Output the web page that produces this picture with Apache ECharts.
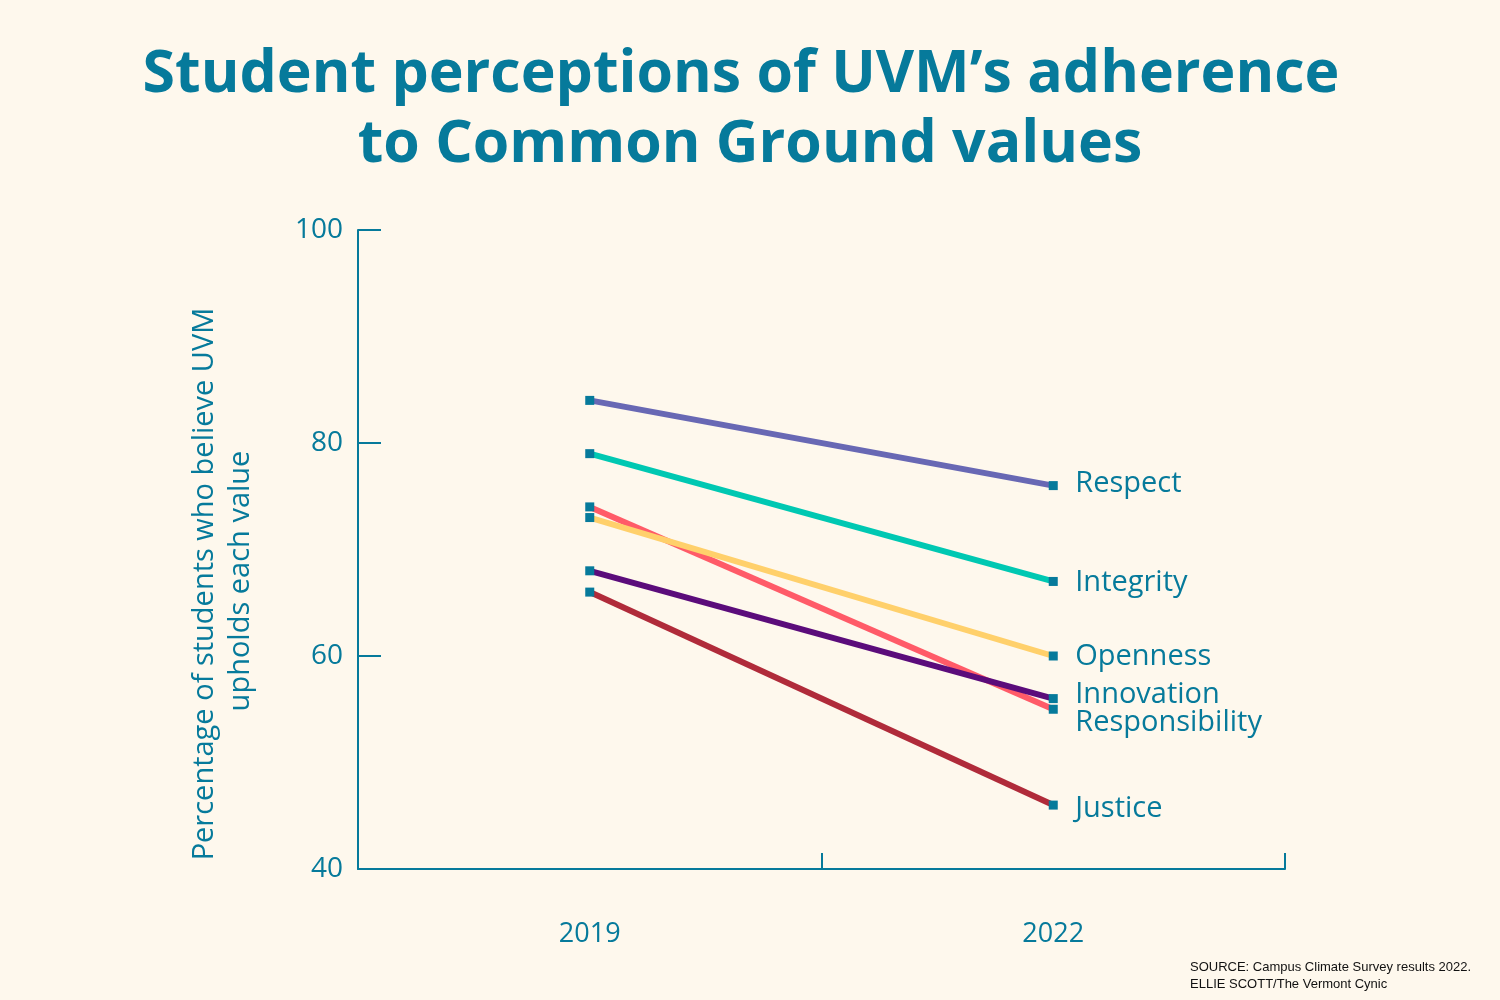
<!DOCTYPE html>
<html>
<head>
<meta charset="utf-8">
<script src="https://cdn.jsdelivr.net/npm/echarts@6/dist/echarts.min.js"></script>
<style>
html,body{margin:0;padding:0;background:#fef8ed;}
#chart{width:1500px;height:1000px;}
</style>
</head>
<body>
<div id="chart"></div>
<script>
const categories = ['2019', '2022'];
const seriesNames = ['Responsibility', 'Openness', 'Innovation', 'Justice', 'Integrity', 'Respect'];
const responsibility = [74, 55];
const openness = [73, 60];
const innovation = [68, 56];
const justice = [66, 46];
const integrity = [79, 67];
const respect = [84, 76];
const yTicks = [40, 60, 80, 100];
const titleLines = ['Student perceptions of UVM\u2019s adherence', 'to Common Ground values'];
const yNameLines = ['Percentage of students who believe UVM', 'upholds each value'];
const sourceLines = ['SOURCE: Campus Climate Survey results 2022.', 'ELLIE SCOTT/The Vermont Cynic'];

const TEAL = '#067a9b';
const colors = {
  Responsibility: '#ff5b68',
  Openness: '#ffd06b',
  Innovation: '#5b0c7b',
  Justice: '#b02b3a',
  Integrity: '#00c8b2',
  Respect: '#6868b4'
};
const labelOffsets = {
  Responsibility: [0, 13],
  Openness: [0, 1],
  Innovation: [0, -4],
  Justice: [0, 4],
  Integrity: [0, 1],
  Respect: [0, -2]
};
const values = {
  Responsibility: responsibility,
  Openness: openness,
  Innovation: innovation,
  Justice: justice,
  Integrity: integrity,
  Respect: respect
};

const chart = echarts.init(document.getElementById('chart'));
const FONT = '"Open Sans", "Noto Sans", sans-serif';

chart.setOption({
  backgroundColor: '#fef8ed',
  animation: false,
  grid: { left: 358, right: 215, top: 230, bottom: 131 },
  xAxis: {
    type: 'category',
    data: categories,
    boundaryGap: true,
    axisLine: { show: true, lineStyle: { color: TEAL, width: 2 } },
    axisTick: { show: true, inside: true, length: 16, lineStyle: { color: TEAL, width: 2 } },
    axisLabel: { color: TEAL, fontFamily: FONT, fontSize: 27, margin: 52 },
    splitLine: { show: false }
  },
  yAxis: {
    type: 'value',
    min: yTicks[0],
    max: yTicks[yTicks.length - 1],
    interval: yTicks[1] - yTicks[0],
    axisLine: { show: true, lineStyle: { color: TEAL, width: 2 } },
    axisTick: { show: true, inside: true, length: 23, lineStyle: { color: TEAL, width: 2 } },
    axisLabel: { color: TEAL, fontFamily: FONT, fontSize: 28, margin: 15 },
    splitLine: { show: false }
  },
  graphic: [
    {
      type: 'text', x: 741, y: 75,
      style: { text: titleLines[0], fill: TEAL, font: 'bold 59px ' + FONT, textAlign: 'center', textVerticalAlign: 'middle' }
    },
    {
      type: 'text', x: 750, y: 145,
      style: { text: titleLines[1], fill: TEAL, font: 'bold 59px ' + FONT, textAlign: 'center', textVerticalAlign: 'middle' }
    },
    {
      type: 'text', x: 205, y: 584, rotation: Math.PI / 2,
      style: { text: yNameLines[0], fill: TEAL, font: '29px ' + FONT, textAlign: 'center', textVerticalAlign: 'middle' }
    },
    {
      type: 'text', x: 241, y: 581, rotation: Math.PI / 2,
      style: { text: yNameLines[1], fill: TEAL, font: '29px ' + FONT, textAlign: 'center', textVerticalAlign: 'middle' }
    },
    {
      type: 'text', x: 1190, y: 961,
      style: { text: sourceLines[0], fill: '#111', font: '13px "Liberation Sans", Arial, sans-serif' }
    },
    {
      type: 'text', x: 1190, y: 978,
      style: { text: sourceLines[1], fill: '#111', font: '13px "Liberation Sans", Arial, sans-serif' }
    }
  ],
  series: seriesNames.map(name => ({
    name: name,
    type: 'line',
    data: values[name],
    symbol: 'rect',
    symbolSize: 9,
    itemStyle: { color: TEAL },
    lineStyle: { color: colors[name], width: 6 },
    endLabel: {
      show: true,
      formatter: '{a}',
      color: TEAL,
      fontFamily: FONT,
      fontSize: 29,
      distance: 22,
      offset: labelOffsets[name]
    }
  }))
});
</script>
</body>
</html>
